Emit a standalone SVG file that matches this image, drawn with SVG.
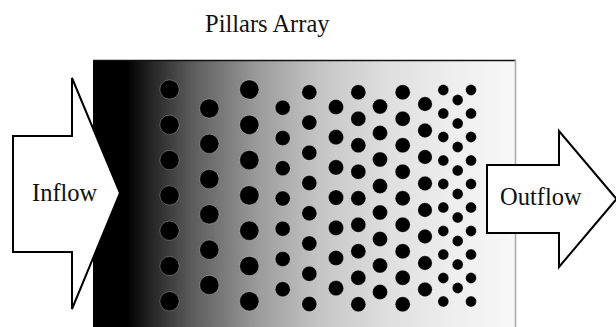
<svg xmlns="http://www.w3.org/2000/svg" width="616" height="327" viewBox="0 0 616 327">
  <defs>
    <linearGradient id="bg" x1="93" y1="0" x2="516" y2="0" gradientUnits="userSpaceOnUse">
      <stop offset="0" stop-color="#000"/>
      <stop offset="0.08" stop-color="#000"/>
      <stop offset="0.14" stop-color="#262626"/>
      <stop offset="0.23" stop-color="#5a5a5a"/>
      <stop offset="0.39" stop-color="#9b9b9b"/>
      <stop offset="0.54" stop-color="#c6c6c6"/>
      <stop offset="0.70" stop-color="#dfdfdf"/>
      <stop offset="0.86" stop-color="#efefef"/>
      <stop offset="1" stop-color="#f8f8f8"/>
    </linearGradient>
  </defs>
  <style>
    .lbl { font-family: "Liberation Serif", "Times New Roman", serif; font-size: 24.5px; fill: #111; }
    .arrow { fill: #fff; stroke: #000; stroke-width: 2; stroke-linejoin: miter; }
    .dot { fill: #000; stroke: #fff; stroke-opacity: 0.25; stroke-width: 1; }
  </style>
  <rect width="616" height="327" fill="#fff"/>

  <g id="pillars-array">
    <text class="lbl" x="205" y="32">Pillars Array</text>
    <rect x="93" y="60" width="422.5" height="280" fill="url(#bg)"/>
    <line x1="93" y1="60.5" x2="516" y2="60.5" stroke="#111" stroke-width="1.5"/>
    <line x1="515.5" y1="60" x2="515.5" y2="327" stroke="#a8a8a8" stroke-width="1.5"/>
    <g id="pillars">
      <!-- col A -->
      <circle class="dot" cx="169.5" cy="89.5" r="9.6"/><circle class="dot" cx="169.5" cy="124.8" r="9.6"/><circle class="dot" cx="169.5" cy="160.1" r="9.6"/><circle class="dot" cx="169.5" cy="195.4" r="9.6"/><circle class="dot" cx="169.5" cy="230.7" r="9.6"/><circle class="dot" cx="169.5" cy="266" r="9.6"/><circle class="dot" cx="169.5" cy="301.3" r="9.6"/>
      <!-- col B -->
      <circle class="dot" cx="209.3" cy="108.5" r="9.6"/><circle class="dot" cx="209.3" cy="143.8" r="9.6"/><circle class="dot" cx="209.3" cy="179.1" r="9.6"/><circle class="dot" cx="209.3" cy="214.4" r="9.6"/><circle class="dot" cx="209.3" cy="249.7" r="9.6"/><circle class="dot" cx="209.3" cy="285" r="9.6"/>
      <!-- col C -->
      <circle class="dot" cx="249.3" cy="89.5" r="9.6"/><circle class="dot" cx="249.3" cy="124.8" r="9.6"/><circle class="dot" cx="249.3" cy="160.1" r="9.6"/><circle class="dot" cx="249.3" cy="195.4" r="9.6"/><circle class="dot" cx="249.3" cy="230.7" r="9.6"/><circle class="dot" cx="249.3" cy="266" r="9.6"/><circle class="dot" cx="249.3" cy="301.3" r="9.6"/>
      <!-- col D -->
      <circle class="dot" cx="282.7" cy="107.7" r="7.5"/><circle class="dot" cx="282.7" cy="138" r="7.5"/><circle class="dot" cx="282.7" cy="168.2" r="7.5"/><circle class="dot" cx="282.7" cy="198.5" r="7.5"/><circle class="dot" cx="282.7" cy="228.7" r="7.5"/><circle class="dot" cx="282.7" cy="259" r="7.5"/><circle class="dot" cx="282.7" cy="289.2" r="7.5"/>
      <!-- col E -->
      <circle class="dot" cx="309.3" cy="92.3" r="7.5"/><circle class="dot" cx="309.3" cy="122.5" r="7.5"/><circle class="dot" cx="309.3" cy="152.8" r="7.5"/><circle class="dot" cx="309.3" cy="183" r="7.5"/><circle class="dot" cx="309.3" cy="213.3" r="7.5"/><circle class="dot" cx="309.3" cy="243.5" r="7.5"/><circle class="dot" cx="309.3" cy="273.8" r="7.5"/><circle class="dot" cx="309.3" cy="304" r="7.5"/>
      <!-- col F -->
      <circle class="dot" cx="336" cy="107" r="7.6"/><circle class="dot" cx="336" cy="137.2" r="7.6"/><circle class="dot" cx="336" cy="167.4" r="7.6"/><circle class="dot" cx="336" cy="197.6" r="7.6"/><circle class="dot" cx="336" cy="227.8" r="7.6"/><circle class="dot" cx="336" cy="258" r="7.6"/><circle class="dot" cx="336" cy="288.2" r="7.6"/>
      <!-- col G -->
      <circle class="dot" cx="358.3" cy="92.3" r="7.5"/><circle class="dot" cx="358.3" cy="118.8" r="7.5"/><circle class="dot" cx="358.3" cy="145.3" r="7.5"/><circle class="dot" cx="358.3" cy="171.8" r="7.5"/><circle class="dot" cx="358.3" cy="198.3" r="7.5"/><circle class="dot" cx="358.3" cy="224.8" r="7.5"/><circle class="dot" cx="358.3" cy="251.3" r="7.5"/><circle class="dot" cx="358.3" cy="277.8" r="7.5"/><circle class="dot" cx="358.3" cy="304.3" r="7.5"/>
      <!-- col H -->
      <circle class="dot" cx="380" cy="106.5" r="7.5"/><circle class="dot" cx="380" cy="133" r="7.5"/><circle class="dot" cx="380" cy="159.5" r="7.5"/><circle class="dot" cx="380" cy="186" r="7.5"/><circle class="dot" cx="380" cy="212.5" r="7.5"/><circle class="dot" cx="380" cy="239" r="7.5"/><circle class="dot" cx="380" cy="265.5" r="7.5"/><circle class="dot" cx="380" cy="292" r="7.5"/>
      <!-- col I -->
      <circle class="dot" cx="402.7" cy="92.3" r="7.5"/><circle class="dot" cx="402.7" cy="118.8" r="7.5"/><circle class="dot" cx="402.7" cy="145.3" r="7.5"/><circle class="dot" cx="402.7" cy="171.8" r="7.5"/><circle class="dot" cx="402.7" cy="198.3" r="7.5"/><circle class="dot" cx="402.7" cy="224.8" r="7.5"/><circle class="dot" cx="402.7" cy="251.3" r="7.5"/><circle class="dot" cx="402.7" cy="277.8" r="7.5"/><circle class="dot" cx="402.7" cy="304.3" r="7.5"/>
      <!-- col J -->
      <circle class="dot" cx="425" cy="104" r="7.2"/><circle class="dot" cx="425" cy="130.5" r="7.2"/><circle class="dot" cx="425" cy="157" r="7.2"/><circle class="dot" cx="425" cy="183.5" r="7.2"/><circle class="dot" cx="425" cy="210" r="7.2"/><circle class="dot" cx="425" cy="236.5" r="7.2"/><circle class="dot" cx="425" cy="263" r="7.2"/><circle class="dot" cx="425" cy="289.5" r="7.2"/>
      <!-- col K -->
      <circle class="dot" cx="443.3" cy="90" r="5.4"/><circle class="dot" cx="443.3" cy="113.5" r="5.4"/><circle class="dot" cx="443.3" cy="137" r="5.4"/><circle class="dot" cx="443.3" cy="160.5" r="5.4"/><circle class="dot" cx="443.3" cy="184" r="5.4"/><circle class="dot" cx="443.3" cy="207.5" r="5.4"/><circle class="dot" cx="443.3" cy="231" r="5.4"/><circle class="dot" cx="443.3" cy="254.5" r="5.4"/><circle class="dot" cx="443.3" cy="278" r="5.4"/><circle class="dot" cx="443.3" cy="301.5" r="5.4"/>
      <!-- col L -->
      <circle class="dot" cx="457.7" cy="100" r="5.4"/><circle class="dot" cx="457.7" cy="123.5" r="5.4"/><circle class="dot" cx="457.7" cy="147" r="5.4"/><circle class="dot" cx="457.7" cy="170.5" r="5.4"/><circle class="dot" cx="457.7" cy="194" r="5.4"/><circle class="dot" cx="457.7" cy="217.5" r="5.4"/><circle class="dot" cx="457.7" cy="241" r="5.4"/><circle class="dot" cx="457.7" cy="264.5" r="5.4"/><circle class="dot" cx="457.7" cy="288" r="5.4"/>
      <!-- col M -->
      <circle class="dot" cx="471" cy="90" r="5.4"/><circle class="dot" cx="471" cy="113.5" r="5.4"/><circle class="dot" cx="471" cy="137" r="5.4"/><circle class="dot" cx="471" cy="160.5" r="5.4"/><circle class="dot" cx="471" cy="184" r="5.4"/><circle class="dot" cx="471" cy="207.5" r="5.4"/><circle class="dot" cx="471" cy="231" r="5.4"/><circle class="dot" cx="471" cy="254.5" r="5.4"/><circle class="dot" cx="471" cy="278" r="5.4"/><circle class="dot" cx="471" cy="301.5" r="5.4"/>
    </g>
  </g>

  <g id="inflow">
    <polygon class="arrow" points="13,136 72,136 72,78 120,193 72,309 72,252 13,252"/>
    <text class="lbl" x="32" y="201">Inflow</text>
  </g>

  <g id="outflow">
    <polygon class="arrow" points="487,165 559,165 559,131 616.5,199 559,267 559,233 487,233"/>
    <text class="lbl" x="500" y="205">Outflow</text>
  </g>

  <g id="connectors"/>
</svg>
